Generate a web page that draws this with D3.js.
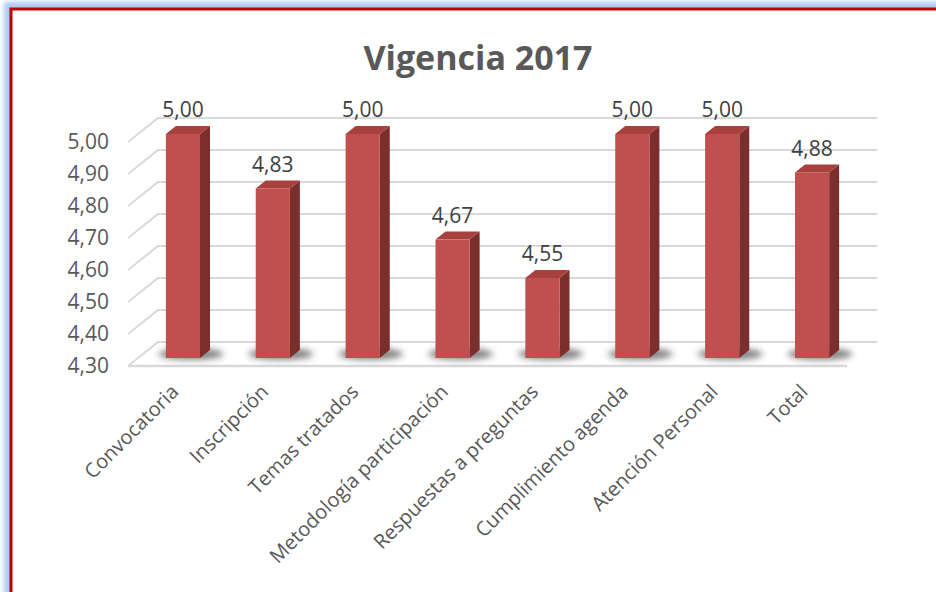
<!DOCTYPE html>
<html>
<head>
<meta charset="utf-8">
<script src="https://cdn.jsdelivr.net/npm/d3@7"></script>
<style>
html,body{margin:0;padding:0;background:#fff;}
svg{display:block;}
text{font-family:"Open Sans",sans-serif;}
</style>
</head>
<body>
<svg id="chart" width="936" height="592"></svg>
<script>
const categories = ["Convocatoria","Inscripción","Temas tratados","Metodología participación","Respuestas a preguntas","Cumplimiento agenda","Atención Personal","Total"];
const values = [5.00, 4.83, 5.00, 4.67, 4.55, 5.00, 5.00, 4.88];
const valueLabels = ["5,00","4,83","5,00","4,67","4,55","5,00","5,00","4,88"];
const ticks = [4.30, 4.40, 4.50, 4.60, 4.70, 4.80, 4.90, 5.00];
const tickLabels = ["4,30","4,40","4,50","4,60","4,70","4,80","4,90","5,00"];
const title = "Vigencia 2017";

const svg = d3.select("#chart");
const defs = svg.append("defs");
defs.append("filter").attr("id","glow").attr("x","-10%").attr("y","-10%").attr("width","120%").attr("height","120%")
  .append("feGaussianBlur").attr("stdDeviation",2.5);
defs.append("filter").attr("id","shadow").attr("x","-50%").attr("y","-100%").attr("width","200%").attr("height","300%")
  .append("feGaussianBlur").attr("stdDeviation",3);

// frame
svg.append("rect").attr("x",11).attr("y",9).attr("width",1000).attr("height",700)
  .attr("fill","none").attr("stroke","#a9c9f2").attr("stroke-width",14).attr("filter","url(#glow)");
svg.append("rect").attr("x",11).attr("y",9).attr("width",1000).attr("height",700)
  .attr("fill","#fff").attr("stroke","#c00000").attr("stroke-width",3);

// geometry
const front = {x0:128, x1:847};
const DX = 30, DY = -24; // full depth offset
const bd = 1/3;           // bar front plane depth fraction
const y = d3.scaleLinear().domain([4.30, 5.00]).range([366, 142]);
const x = d3.scaleBand().domain(categories).range([front.x0, front.x1]).paddingInner(0.62).paddingOuter(0.31);

// title
svg.append("text").attr("x",478).attr("y",70).attr("text-anchor","middle")
  .attr("font-size",34).attr("font-weight","bold").attr("fill","#595959").text(title);

// gridlines (left wall + back wall)
const grid = svg.append("g").attr("stroke","#d9d9d9").attr("stroke-width",2).attr("fill","none");
ticks.forEach(t => {
  const yf = y(t);
  grid.append("path").attr("d", `M${front.x0},${yf}L${front.x0+DX},${yf+DY}L${front.x1+DX},${yf+DY}`);
});
// floor front edge
grid.append("path").attr("d", `M${front.x0},${y(4.30)}L${front.x1},${y(4.30)}`).attr("stroke-width",2.5);

// tick labels
svg.append("g").selectAll("text").data(ticks).join("text")
  .attr("x",109).attr("y",d=>y(d)).attr("dy","0.35em").attr("text-anchor","end")
  .attr("font-size",21).attr("fill","#595959").text((d,i)=>tickLabels[i]);

// bars
const bw = x.bandwidth();
const ox = DX*bd, oy = DY*bd, dxB = DX/3, dyB = DY/3;
const shadows = svg.append("g").attr("filter","url(#shadow)");
categories.forEach((c,i)=>{
  const x0 = x(c)+ox;
  shadows.append("ellipse").attr("cx", x0+bw*0.5+8).attr("cy", y(4.30)+oy-4)
    .attr("rx", bw*0.95).attr("ry", 6).attr("fill","#333").attr("opacity",0.6);
});
const bars = svg.append("g");
categories.forEach((c,i)=>{
  const x0 = x(c)+ox, x1 = x0+bw;
  const yt = y(values[i])+oy, yb = y(4.30)+oy;
  const g = bars.append("g");
  g.append("path").attr("d",`M${x1},${yt}L${x1+dxB},${yt+dyB}L${x1+dxB},${yb+dyB}L${x1},${yb}Z`).attr("fill","#7b2f2d");
  g.append("path").attr("d",`M${x0},${yt}L${x1},${yt}L${x1+dxB},${yt+dyB}L${x0+dxB},${yt+dyB}Z`).attr("fill","#a8403d");
  g.append("rect").attr("x",x0).attr("y",yt).attr("width",bw).attr("height",yb-yt).attr("fill","#c0504d");
  g.append("text").attr("x",x0+bw/2).attr("y",y(values[i])-32).attr("dy","0.35em")
    .attr("text-anchor","middle").attr("font-size",21).attr("fill","#404040").text(valueLabels[i]);
});

// category labels
svg.append("g").selectAll("text").data(categories).join("text")
  .attr("transform",d=>`translate(${x(d)+ox+bw/2-8},${388}) rotate(-45)`)
  .attr("text-anchor","end").attr("dy","0.35em")
  .attr("font-size",20).attr("fill","#595959").text(d=>d);
</script>
</body>
</html>
